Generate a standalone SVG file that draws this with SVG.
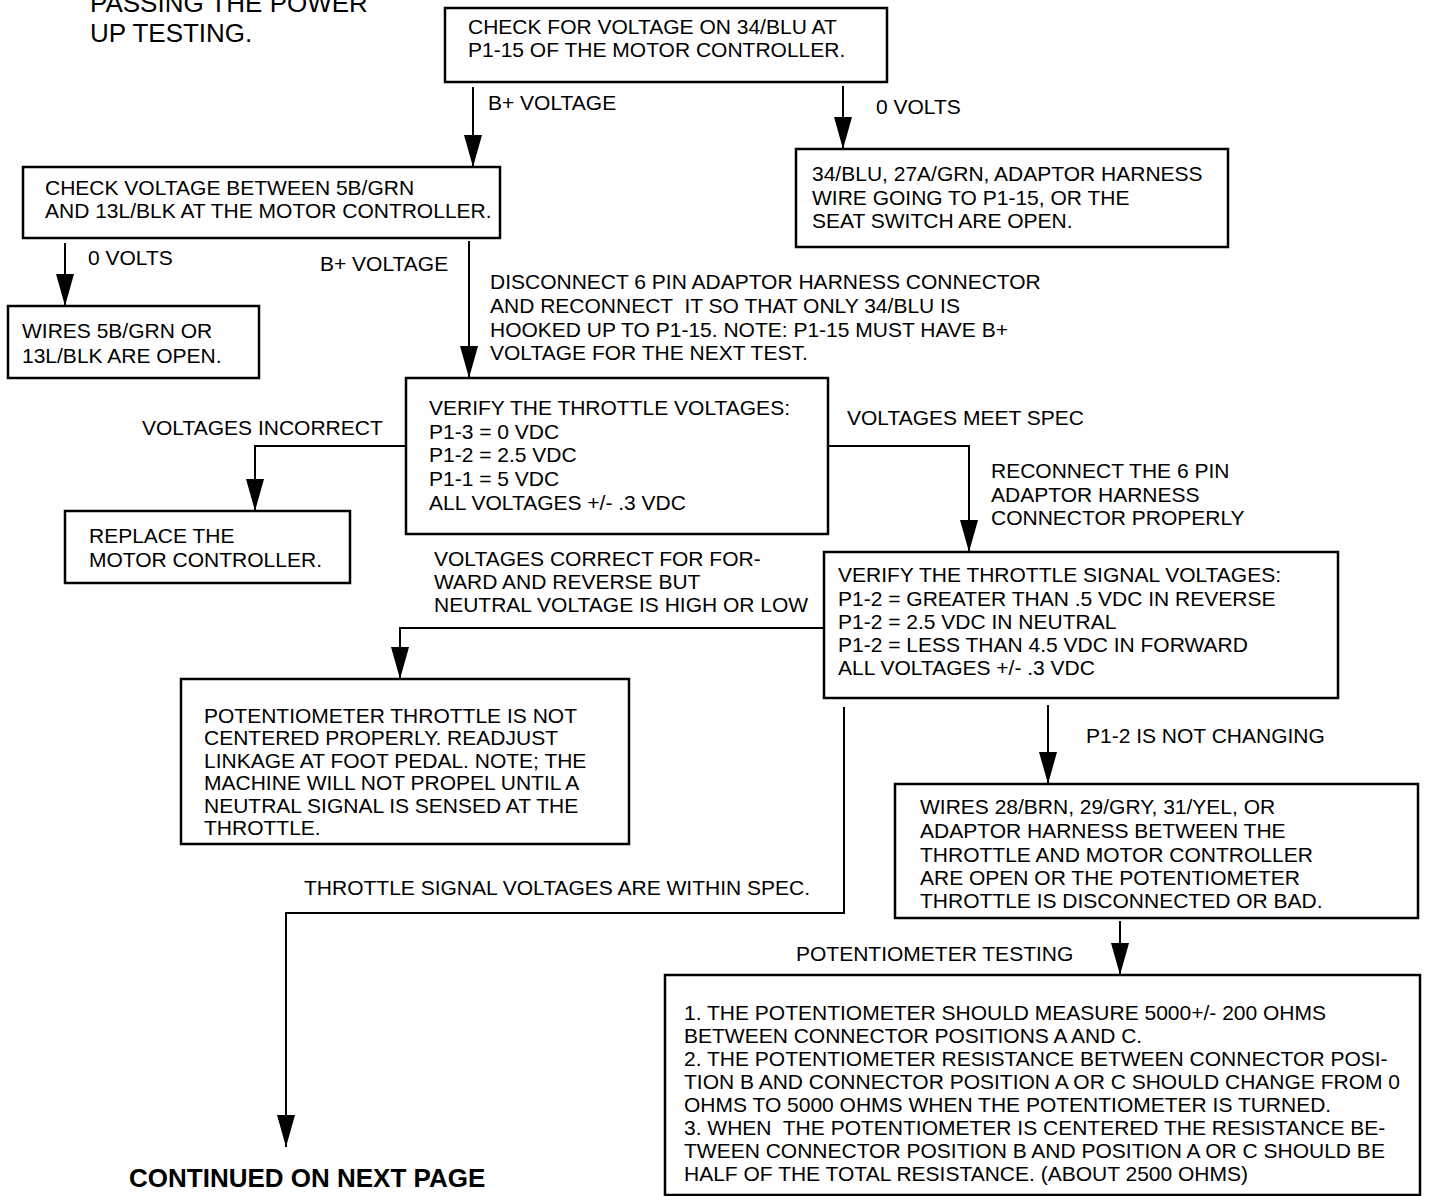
<svg xmlns="http://www.w3.org/2000/svg" width="1430" height="1196" viewBox="0 0 1430 1196">
<style>
text{font-family:"Liberation Sans",Arial,Helvetica,sans-serif;font-size:21px;fill:#000}
.title{font-size:26px}
.bold{font-size:26px;font-weight:bold}
.box{fill:#fff;stroke:#000;stroke-width:2.5}
.conn{fill:none;stroke:#000;stroke-width:2}
.pre{white-space:pre}
</style>
<defs>
<marker id="ah" markerUnits="userSpaceOnUse" markerWidth="32" markerHeight="18" refX="32" refY="9" orient="auto">
<path d="M0,0 L32,9 L0,18 z" fill="#000"/>
</marker>
</defs>
<rect width="1430" height="1196" fill="#fff"/>

<g id="note">
<text class="title" x="90" y="12">PASSING THE POWER</text>
<text class="title" x="90" y="42">UP TESTING.</text>
</g>

<g id="n1">
<rect class="box" x="445" y="8" width="442" height="74"/>
<text x="468" y="34">CHECK FOR VOLTAGE ON 34/BLU AT</text>
<text x="468" y="57">P1-15 OF THE MOTOR CONTROLLER.</text>
</g>

<g id="n2">
<rect class="box" x="796" y="149" width="432" height="98"/>
<text x="812" y="181">34/BLU, 27A/GRN, ADAPTOR HARNESS</text>
<text x="812" y="205">WIRE GOING TO P1-15, OR THE</text>
<text x="812" y="228">SEAT SWITCH ARE OPEN.</text>
</g>

<g id="n3">
<rect class="box" x="23" y="167" width="477" height="71"/>
<text x="45" y="195">CHECK VOLTAGE BETWEEN 5B/GRN</text>
<text x="45" y="218">AND 13L/BLK AT THE MOTOR CONTROLLER.</text>
</g>

<g id="n4">
<rect class="box" x="8" y="306" width="251" height="72"/>
<text x="22" y="338">WIRES 5B/GRN OR</text>
<text x="22" y="363">13L/BLK ARE OPEN.</text>
</g>

<g id="n5">
<rect class="box" x="406" y="378" width="422" height="156"/>
<text x="429" y="415">VERIFY THE THROTTLE VOLTAGES:</text>
<text x="429" y="439">P1-3 = 0 VDC</text>
<text x="429" y="462">P1-2 = 2.5 VDC</text>
<text x="429" y="486">P1-1 = 5 VDC</text>
<text x="429" y="510">ALL VOLTAGES +/- .3 VDC</text>
</g>

<g id="n6">
<rect class="box" x="65" y="511" width="285" height="72"/>
<text x="89" y="543">REPLACE THE</text>
<text x="89" y="567">MOTOR CONTROLLER.</text>
</g>

<g id="n7">
<rect class="box" x="824" y="552" width="514" height="146"/>
<text x="838" y="582">VERIFY THE THROTTLE SIGNAL VOLTAGES:</text>
<text x="838" y="606">P1-2 = GREATER THAN .5 VDC IN REVERSE</text>
<text x="838" y="629">P1-2 = 2.5 VDC IN NEUTRAL</text>
<text x="838" y="652">P1-2 = LESS THAN 4.5 VDC IN FORWARD</text>
<text x="838" y="675">ALL VOLTAGES +/- .3 VDC</text>
</g>

<g id="n8">
<rect class="box" x="181" y="679" width="448" height="165"/>
<text x="204" y="723">POTENTIOMETER THROTTLE IS NOT</text>
<text x="204" y="745">CENTERED PROPERLY. READJUST</text>
<text x="204" y="768">LINKAGE AT FOOT PEDAL. NOTE; THE</text>
<text x="204" y="790">MACHINE WILL NOT PROPEL UNTIL A</text>
<text x="204" y="813">NEUTRAL SIGNAL IS SENSED AT THE</text>
<text x="204" y="835">THROTTLE.</text>
</g>

<g id="n9">
<rect class="box" x="895" y="784" width="523" height="134"/>
<text x="920" y="814">WIRES 28/BRN, 29/GRY, 31/YEL, OR</text>
<text x="920" y="838">ADAPTOR HARNESS BETWEEN THE</text>
<text x="920" y="862">THROTTLE AND MOTOR CONTROLLER</text>
<text x="920" y="885">ARE OPEN OR THE POTENTIOMETER</text>
<text x="920" y="908">THROTTLE IS DISCONNECTED OR BAD.</text>
</g>

<g id="n10">
<rect class="box" x="665" y="975" width="755" height="220"/>
<text x="684" y="1020">1. THE POTENTIOMETER SHOULD MEASURE 5000+/- 200 OHMS</text>
<text x="684" y="1043">BETWEEN CONNECTOR POSITIONS A AND C.</text>
<text x="684" y="1066">2. THE POTENTIOMETER RESISTANCE BETWEEN CONNECTOR POSI-</text>
<text x="684" y="1089">TION B AND CONNECTOR POSITION A OR C SHOULD CHANGE FROM 0</text>
<text x="684" y="1112">OHMS TO 5000 OHMS WHEN THE POTENTIOMETER IS TURNED.</text>
<text class="pre" x="684" y="1135" xml:space="preserve">3. WHEN  THE POTENTIOMETER IS CENTERED THE RESISTANCE BE-</text>
<text x="684" y="1158">TWEEN CONNECTOR POSITION B AND POSITION A OR C SHOULD BE</text>
<text x="684" y="1181">HALF OF THE TOTAL RESISTANCE. (ABOUT 2500 OHMS)</text>
</g>

<g id="end">
<text class="bold" x="129" y="1187">CONTINUED ON NEXT PAGE</text>
</g>

<g id="connectors">
<path class="conn" d="M473,87 V167" marker-end="url(#ah)"/>
<path class="conn" d="M843,86 V149" marker-end="url(#ah)"/>
<path class="conn" d="M65,243 V306" marker-end="url(#ah)"/>
<path class="conn" d="M469,241 V378" marker-end="url(#ah)"/>
<path class="conn" d="M406,446 H255 V511" marker-end="url(#ah)"/>
<path class="conn" d="M828,446 H969 V552" marker-end="url(#ah)"/>
<path class="conn" d="M824,628 H400 V679" marker-end="url(#ah)"/>
<path class="conn" d="M844,707 V913 H286 V1147" marker-end="url(#ah)"/>
<path class="conn" d="M1048,705 V784" marker-end="url(#ah)"/>
<path class="conn" d="M1120,921 V975" marker-end="url(#ah)"/>
</g>

<g id="labels">
<text x="488" y="110">B+ VOLTAGE</text>
<text x="876" y="114">0 VOLTS</text>
<text x="88" y="265">0 VOLTS</text>
<text x="320" y="271">B+ VOLTAGE</text>
<text x="490" y="289">DISCONNECT 6 PIN ADAPTOR HARNESS CONNECTOR</text>
<text class="pre" x="490" y="313" xml:space="preserve">AND RECONNECT  IT SO THAT ONLY 34/BLU IS</text>
<text x="490" y="337">HOOKED UP TO P1-15. NOTE: P1-15 MUST HAVE B+</text>
<text x="490" y="360">VOLTAGE FOR THE NEXT TEST.</text>
<text x="142" y="435">VOLTAGES INCORRECT</text>
<text x="847" y="425">VOLTAGES MEET SPEC</text>
<text x="991" y="478">RECONNECT THE 6 PIN</text>
<text x="991" y="502">ADAPTOR HARNESS</text>
<text x="991" y="525">CONNECTOR PROPERLY</text>
<text x="434" y="566">VOLTAGES CORRECT FOR FOR-</text>
<text x="434" y="589">WARD AND REVERSE BUT</text>
<text x="434" y="612">NEUTRAL VOLTAGE IS HIGH OR LOW</text>
<text x="1086" y="743">P1-2 IS NOT CHANGING</text>
<text x="304" y="895">THROTTLE SIGNAL VOLTAGES ARE WITHIN SPEC.</text>
<text x="796" y="961">POTENTIOMETER TESTING</text>
</g>
</svg>
